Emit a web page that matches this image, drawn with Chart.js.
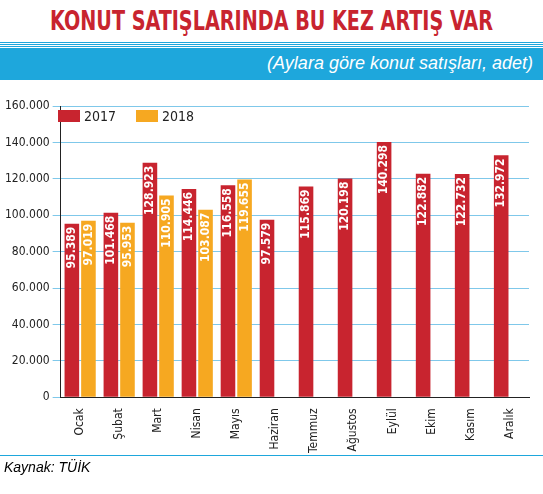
<!DOCTYPE html>
<html><head><meta charset="utf-8">
<script src="https://cdn.jsdelivr.net/npm/chart.js@4"></script>
<style>
body{margin:0;width:543px;height:494px;background:#fff;font-family:"DejaVu Sans Condensed","DejaVu Sans",sans-serif;position:relative;overflow:hidden}
#title{position:absolute;top:6px;left:0;width:543px;text-align:center;color:#c8242f;font-weight:bold;font-size:26px;white-space:nowrap;transform:scaleX(0.82);transform-origin:center}
#band{position:absolute;top:42px;left:0;width:543px;height:38px;background:#1ea7dc}
#band:before{content:"";position:absolute;top:0;left:0;right:0;height:6px;background:repeating-linear-gradient(#1ea7dc 0 1px,#fff 1px 2px)}
#sub{position:absolute;top:53px;right:10px;color:#fff;font-style:italic;font-size:18px;font-family:"Liberation Sans",sans-serif}
#wrap{position:absolute;top:96px;left:0;width:543px;height:360px}
#legend{position:absolute;top:108px;left:58px;font-size:14px;color:#222}
#legend span{display:inline-block;width:22px;height:12px;vertical-align:-1px;margin-right:4px}
#foot{position:absolute;top:455px;left:0;width:543px;border-top:1px solid #1ea7dc;padding:3px 4px;font-style:italic;font-size:14px;font-family:"Liberation Sans",sans-serif}
</style></head><body>
<div id="title">KONUT SATIŞLARINDA BU KEZ ARTIŞ VAR</div>
<div id="band"></div>
<div id="sub">(Aylara göre konut satışları, adet)</div>
<div id="wrap"><canvas id="c"></canvas></div>
<div id="legend"><span style="background:#c8242f"></span>2017&nbsp;&nbsp;&nbsp;&nbsp;&nbsp;<span style="background:#f6a821"></span>2018</div>
<div id="foot">Kaynak: TÜİK</div>
<script>
const months = ['Ocak','Şubat','Mart','Nisan','Mayıs','Haziran','Temmuz','Ağustos','Eylül','Ekim','Kasım','Aralık'];
const sales2017 = [95389,101468,128923,114446,116558,97579,115869,120198,140298,122882,122732,132972];
const sales2018 = [97019,95953,110905,103087,119655,null,null,null,null,null,null,null];
const fmt = v => v.toLocaleString('de-DE');
const FONT = '"DejaVu Sans Condensed", sans-serif';

const barLabels = {
  id: 'barLabels',
  afterDatasetsDraw(chart) {
    const ctx = chart.ctx;
    ctx.save();
    ctx.fillStyle = '#fff';
    ctx.font = 'bold 12px ' + FONT;
    ctx.textAlign = 'right';
    ctx.textBaseline = 'middle';
    chart.data.datasets.forEach((ds, i) => {
      chart.getDatasetMeta(i).data.forEach((bar, j) => {
        if (ds.data[j] == null) return;
        ctx.save();
        ctx.translate(bar.x, bar.y + 3);
        ctx.rotate(-Math.PI / 2);
        ctx.fillText(fmt(ds.data[j]), 0, 0);
        ctx.restore();
      });
    });
    ctx.restore();
  }
};

new Chart(document.getElementById('c'), {
  type: 'bar',
  data: {
    labels: months,
    datasets: [
      { label: '2017', data: sales2017, backgroundColor: '#c8242f' },
      { label: '2018', data: sales2018, backgroundColor: '#f6a821' },
    ],
  },
  options: {
    responsive: true,
    maintainAspectRatio: false,
    animation: false,
    datasets: { bar: { categoryPercentage: 0.85, barPercentage: 0.88 } },
    layout: { padding: { right: 14, left: 2, top: 6 } },
    plugins: { legend: { display: false }, tooltip: { enabled: false } },
    scales: {
      x: { grid: { display: false }, border: { color: '#222' },
        ticks: { color: '#222', maxRotation: 90, minRotation: 90, font: { size: 12, family: FONT } } },
      y: { min: 0, max: 160000, border: { color: '#222' },
        grid: { color: '#7fc8ea', lineWidth: 1 },
        ticks: { stepSize: 20000, color: '#222', callback: v => fmt(v), font: { size: 12, family: FONT } } },
    },
  },
  plugins: [barLabels],
});
</script>
</body></html>
